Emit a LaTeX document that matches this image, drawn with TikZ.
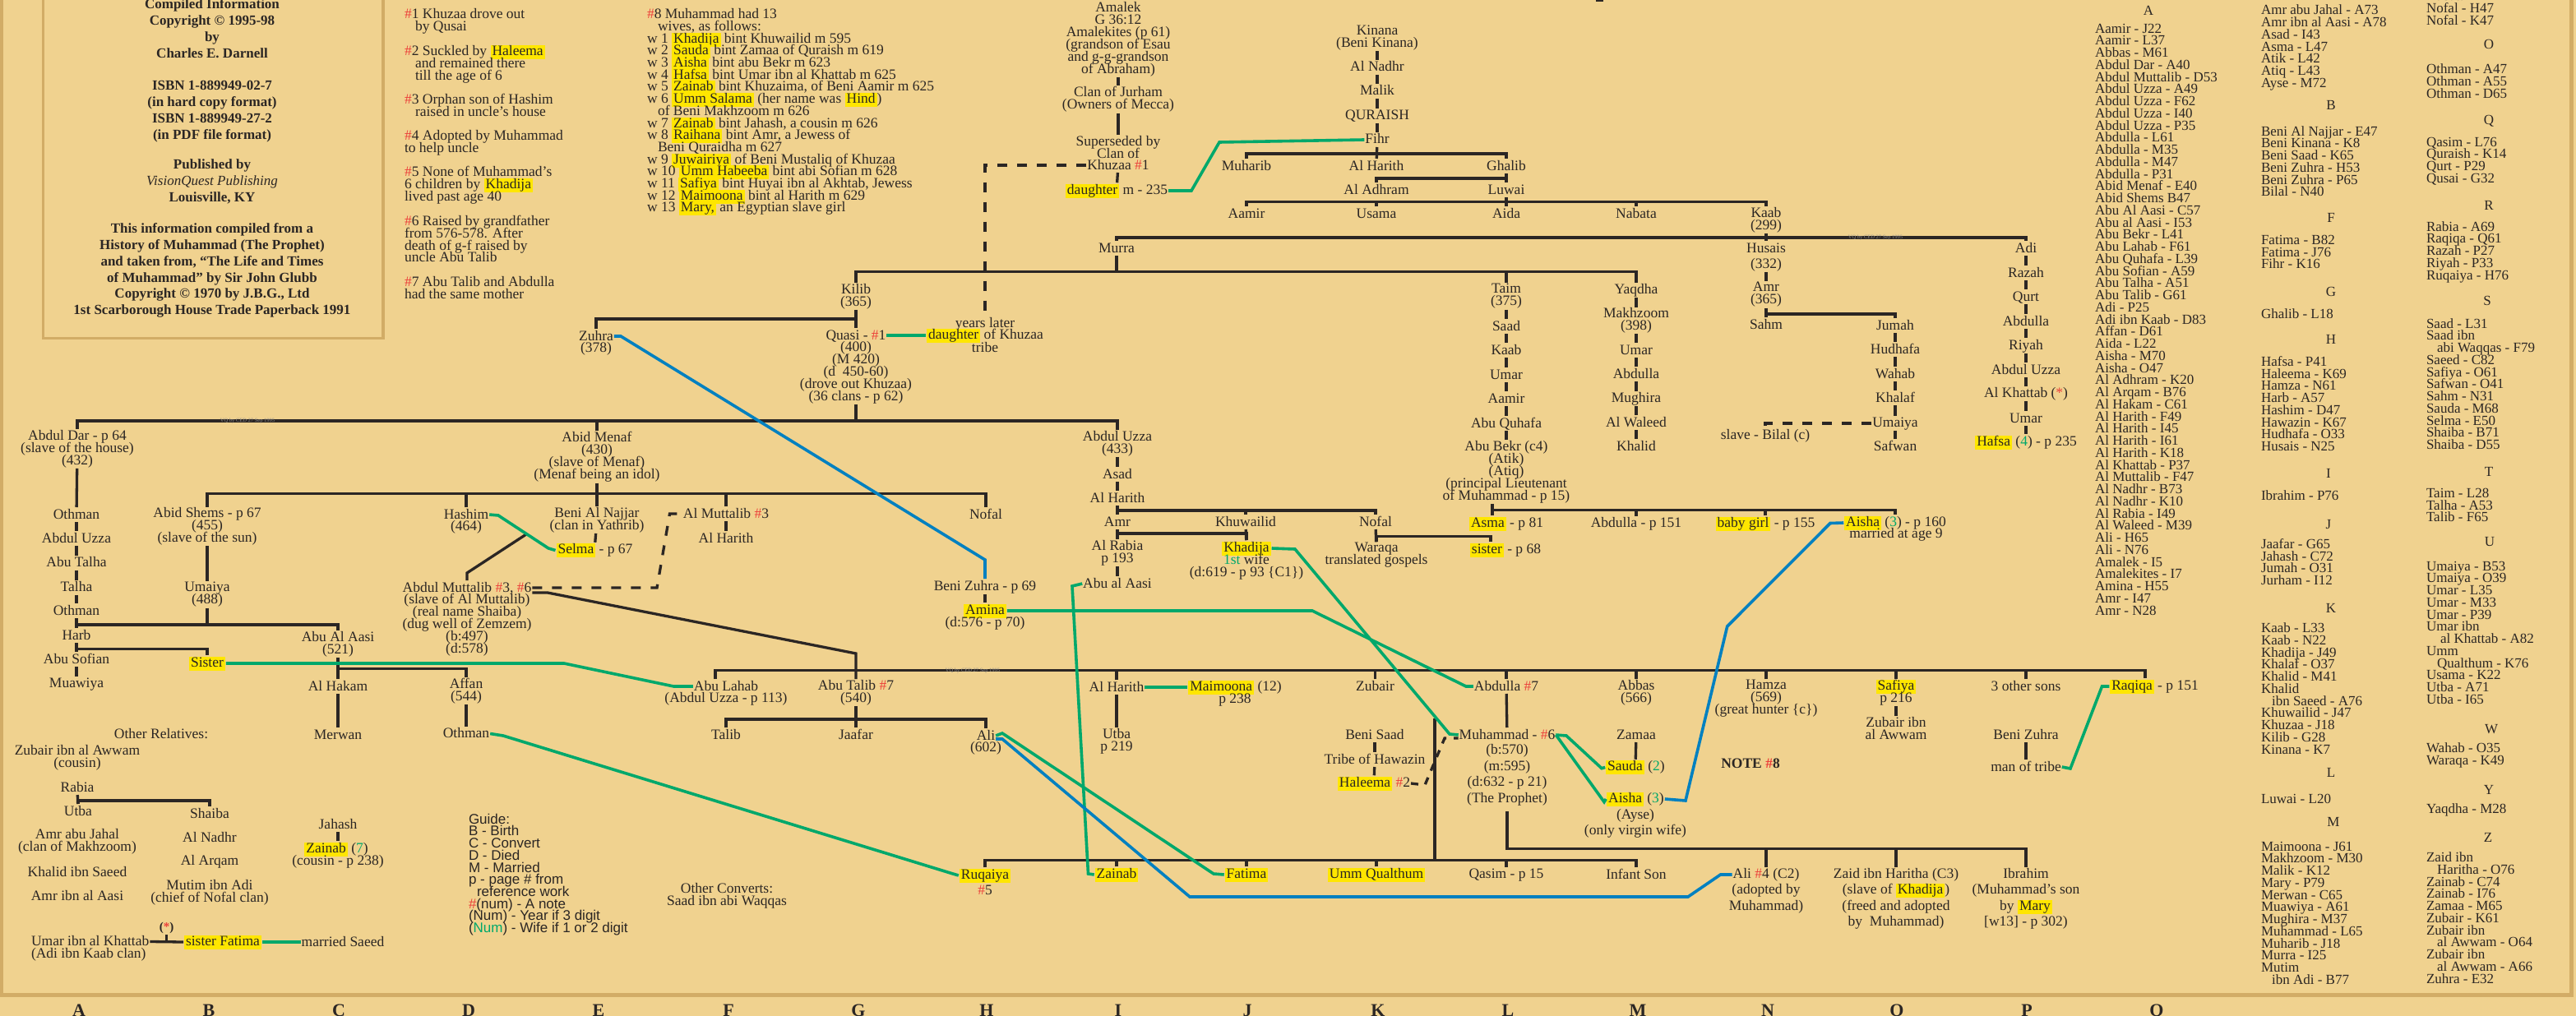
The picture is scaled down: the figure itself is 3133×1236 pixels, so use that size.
\documentclass[tikz,border=0pt]{standalone}
\usepackage{fontspec}
\setmainfont{Liberation Serif}
\newfontfamily\guidefont{Liberation Sans}
\usepackage{tikz}
\lineskiplimit=-100pt
\normallineskiplimit=-100pt
\definecolor{paper}{RGB}{240,210,143}
\definecolor{framecol}{RGB}{210,172,102}
\definecolor{ink}{RGB}{43,38,36}
\definecolor{hlyellow}{RGB}{255,230,0}
\definecolor{notered}{RGB}{236,64,58}
\definecolor{wedgreen}{RGB}{0,168,107}
\definecolor{slaveblue}{RGB}{0,128,192}
\newcommand\hlt[1]{{\setlength\fboxsep{0pt}\colorbox{hlyellow}{\rule[-4.5pt]{0pt}{17pt}\kern2pt #1\kern2pt}}}
\newcommand\nt[1]{\textcolor{notered}{\#}#1}
\newcommand\wf[1]{(\textcolor{wedgreen}{#1})}
\newcommand\sib[3]{\draw[kin] (#1.north) -- ++(0,-#3) -| (#2.north);}
\tikzset{
	txt/.style={inner sep=0pt, outer sep=1pt, align=center, text=ink, font=\fontsize{17.5}{15}\selectfont,
		execute at begin node=\rule{0pt}{13pt}, execute at end node=\rule[-3pt]{0pt}{3pt}},
	txtwide/.style={txt, font=\fontsize{17.5}{19.5}\selectfont},
	notetxt/.style={txt, align=left, anchor=west, font=\fontsize{17.5}{14.8}\selectfont},
	boxtxt/.style={txt, font=\fontsize{17}{19.8}\selectfont\bfseries},
	idx/.style={txt, align=left, anchor=west, font=\fontsize{17}{14.75}\selectfont},
	idxhead/.style={txt, font=\fontsize{17}{14.75}\selectfont},
	guidetxt/.style={txt, align=left, anchor=west, font=\fontsize{17}{14.7}\guidefont},
	colmark/.style={inner sep=0pt, anchor=base, text=ink, font=\fontsize{22}{22}\selectfont\bfseries},
	stamp/.style={inner sep=0pt, text=ink!55, font=\fontsize{6.5}{7}\selectfont},
	kin/.style={line width=3.3pt, draw=ink},
	kindash/.style={kin, dash pattern=on 12pt off 12pt},
	wed/.style={line width=3.6pt, draw=wedgreen},
	slavelink/.style={line width=3.6pt, draw=slaveblue}
}

\begin{document}
\begin{tikzpicture}[x=1pt, y=-1pt]
	%%%%% START %%%%%
	\useasboundingbox (0,0) rectangle (3133,1236);
	\fill[paper] (0,0) rectangle (3133,1236);
	\draw[framecol, line width=5pt] (1,-10) -- (1,1210) -- (3127,1210) -- (3127,-10);
	\draw[framecol, line width=3.5pt] (52.5,-10) rectangle (466,411.5);
	\fill[ink] (1941,-1) rectangle (1950,2);

	% title block
	\node[boxtxt] (credit) at (258,86) {Compiled Information\\Copyright © 1995-98\\by\\Charles E. Darnell\\[19.8pt]ISBN 1-889949-02-7\\(in hard copy format)\\ISBN 1-889949-27-2\\(in PDF file format)};
	\node[boxtxt] (publisher) at (258,221) {Published by\\{\mdseries\itshape VisionQuest Publishing}\\Louisville, KY};
	\node[boxtxt] (source) at (258,329) {This information compiled from a\\History of Muhammad (The Prophet)\\and taken from, “The Life and Times\\of Muhammad” by Sir John Glubb\\Copyright © 1970 by J.B.G., Ltd\\1st Scarborough House Trade Paperback 1991};

	% notes
	\node[notetxt] (noteone) at (491,25.5) {\nt{1} Khuzaa drove out\\\hspace*{13pt}by Qusai};
	\node[notetxt] (notetwo) at (491,78) {\nt{2} Suckled by \hlt{Haleema}\\\hspace*{13pt}and remained there\\\hspace*{13pt}till the age of 6};
	\node[notetxt] (notethree) at (491,129.5) {\nt{3} Orphan son of Hashim\\\hspace*{13pt}raised in uncle's house};
	\node[notetxt] (notefour) at (491,173.5) {\nt{4} Adopted by Muhammad\\to help uncle};
	\node[notetxt] (notefive) at (491,225.5) {\nt{5} None of Muhammad’s\\6 children by \hlt{Khadija}\\lived past age 40};
	\node[notetxt] (notesix) at (491,292) {\nt{6} Raised by grandfather\\from 576-578. After\\death of g-f raised by\\uncle Abu Talib};
	\node[notetxt] (noteseven) at (491,351.5) {\nt{7} Abu Talib and Abdulla\\had the same mother};
	\node[notetxt, font=\fontsize{17.5}{14.7}\selectfont] (noteeight) at (786,136.5) {\nt{8} Muhammad had 13\\\hspace*{13pt}wives, as follows:\\w 1 \hlt{Khadija} bint Khuwailid m 595\\w 2 \hlt{Sauda} bint Zamaa of Quraish m 619\\w 3 \hlt{Aisha} bint abu Bekr m 623\\w 4 \hlt{Hafsa} bint Umar ibn al Khattab m 625\\w 5 \hlt{Zainab} bint Khuzaima, of Beni Aamir m 625\\w 6 \hlt{Umm Salama} (her name was \hlt{Hind})\\\hspace*{13pt}of Beni Makhzoom m 626\\w 7 \hlt{Zainab} bint Jahash, a cousin m 626\\w 8 \hlt{Raihana} bint Amr, a Jewess of\\\hspace*{13pt}Beni Quraidha m 627\\w 9 \hlt{Juwairiya} of Beni Mustaliq of Khuzaa\\w 10 \hlt{Umm Habeeba} bint abi Sofian m 628\\w 11 \hlt{Safiya} bint Huyai ibn al Akhtab, Jewess\\w 12 \hlt{Maimoona} bint al Harith m 629\\w 13 \hlt{Mary,} an Egyptian slave girl};

	% top of the tree
	\node[txt] (amalek) at (1360,47.5) {Amalek\\G 36:12\\Amalekites (p 61)\\(grandson of Esau\\and g-g-grandson\\of Abraham)};
	\node[txt] (jurham) at (1360,121) {Clan of Jurham\\(Owners of Mecca)};
	\node[txt] (superseded) at (1360,180) {Superseded by\\Clan of};
	\node[txt] (khuzaa) at (1360,201) {Khuzaa \nt{1}};
	\node[txt] (daughterm) at (1358,232) {\hlt{daughter} m - 235};
	\draw[kin] (amalek) -- (jurham);
	\draw[kin] (jurham) -- (superseded);
	\draw[kin] (khuzaa) -- (daughterm);

	\node[txt] (kinana) at (1675,46) {Kinana\\(Beni Kinana)};
	\node[txt] (alnadhr) at (1675,82) {Al Nadhr};
	\node[txt] (malik) at (1675,111) {Malik};
	\node[txt] (quraish) at (1675,141) {QURAISH};
	\node[txt] (fihr) at (1675,170) {Fihr};
	\node[txt] (muharib) at (1516,202) {Muharib};
	\node[txt] (harithf) at (1674,202) {Al Harith};
	\node[txt] (ghalib) at (1832,202) {Ghalib};
	\node[txt] (aladhram) at (1674,231) {Al Adhram};
	\node[txt] (luwai) at (1832,231) {Luwai};
	\node[txt] (aamirl) at (1516,260) {Aamir};
	\node[txt] (usama) at (1674,260) {Usama};
	\node[txt] (aida) at (1832,260) {Aida};
	\node[txt] (nabata) at (1990,260) {Nabata};
	\node[txt] (kaabn) at (2148,267.5) {Kaab\\(299)};
	\draw[kin] (kinana) -- (alnadhr);
	\draw[kin] (alnadhr) -- (malik);
	\draw[kin] (malik) -- (quraish);
	\draw[kin] (quraish) -- (fihr);
	\draw[kin] (fihr) -- (harithf);
	\sib{muharib}{ghalib}{6}
	\draw[kin] (ghalib) -- (luwai);
	\sib{aladhram}{luwai}{5}
	\draw[kin] (luwai) -- (aida);
	\sib{aamirl}{kaabn}{5.5}
	\draw[kin] (usama.north) -- ++(0,-5.5);
	\draw[kin] (nabata.north) -- ++(0,-5.5);
	\draw[wed] (fihr.west) -- (1483,173) -- (1449,232) -- (daughterm.east);

	% sons of Kaab
	\node[txt] (murra) at (1358,302) {Murra};
	\node[txt] (husais) at (2148,302) {Husais};
	\node[txt] (husaisyear) at (2148,322) {(332)};
	\node[txt] (amrn) at (2148,358.5) {Amr\\(365)};
	\node[txt] (sahm) at (2148,395) {Sahm};
	\node[txt] (jumah) at (2305,396) {Jumah};
	\node[txt] (hudhafa) at (2305,425) {Hudhafa};
	\node[txt] (wahab) at (2305,455) {Wahab};
	\node[txt] (khalaf) at (2305,484) {Khalaf};
	\node[txt] (umaiyao) at (2305,515) {Umaiya};
	\node[txt] (safwan) at (2305,543) {Safwan};
	\node[txt] (bilal) at (2147,530) {slave - Bilal (c)};
	\node[txt] (adi) at (2464,302) {Adi};
	\node[txt] (razah) at (2464,332) {Razah};
	\node[txt] (qurt) at (2464,361) {Qurt};
	\node[txt] (abdullap) at (2464,391) {Abdulla};
	\node[txt] (riyah) at (2464,420.5) {Riyah};
	\node[txt] (uzzap) at (2464,450) {Abdul Uzza};
	\node[txt] (khattab) at (2464,479) {Al Khattab (\textcolor{notered}{*})};
	\node[txt] (umarp) at (2464,509) {Umar};
	\node[txt] (hafsa) at (2464,538) {\hlt{Hafsa} \wf{4} - p 235};
	\sib{murra}{adi}{4}
	\draw[kin] (kaabn) -- (husais);
	\draw[kin] (husaisyear) -- (amrn);
	\draw[kin] (amrn) -- (sahm);
	\sib{sahm}{jumah}{4}
	\draw[kin] (jumah) -- (hudhafa);
	\draw[kin] (hudhafa) -- (wahab);
	\draw[kin] (wahab) -- (khalaf);
	\draw[kin] (khalaf) -- (umaiyao);
	\draw[kin] (umaiyao) -- (safwan);
	\draw[kindash] (umaiyao.west) -| (bilal.north);
	\draw[kin] (adi) -- (razah);
	\draw[kin] (razah) -- (qurt);
	\draw[kin] (qurt) -- (abdullap);
	\draw[kin] (abdullap) -- (riyah);
	\draw[kin] (riyah) -- (uzzap);
	\draw[kin] (uzzap) -- (khattab);
	\draw[kin] (khattab) -- (umarp);
	\draw[kin] (umarp) -- (hafsa);

	% sons of Murra
	\node[txt] (kilib) at (1041,360.5) {Kilib\\(365)};
	\node[txt] (taim) at (1832,360.5) {Taim\\(375)};
	\node[txt] (yaqdha) at (1990,353) {Yaqdha};
	\node[txt] (saad) at (1832,397) {Saad};
	\node[txt] (kaabl) at (1832,426) {Kaab};
	\node[txt] (umarl) at (1832,456) {Umar};
	\node[txt] (aamirq) at (1832,485) {Aamir};
	\node[txt] (quhafa) at (1832,515) {Abu Quhafa};
	\node[txt] (abubekr) at (1832,574) {Abu Bekr (c4)\\(Atik)\\(Atiq)\\(principal Lieutenant\\of Muhammad - p 15)};
	\node[txt] (makhzoom) at (1990,390) {Makhzoom\\(398)};
	\node[txt] (umarm) at (1990,426) {Umar};
	\node[txt] (abdullam) at (1990,455) {Abdulla};
	\node[txt] (mughira) at (1990,485) {Mughira};
	\node[txt] (waleed) at (1990,514) {Al Waleed};
	\node[txt] (khalid) at (1990,543) {Khalid};
	\sib{kilib}{yaqdha}{13.5}
	\draw[kin] (taim.north) -- ++(0,-13.5);
	\draw[kin] (murra.south) -- ++(0,19.5);
	\draw[kin] (taim) -- (saad);
	\draw[kin] (saad) -- (kaabl);
	\draw[kin] (kaabl) -- (umarl);
	\draw[kin] (umarl) -- (aamirq);
	\draw[kin] (aamirq) -- (quhafa);
	\draw[kin] (quhafa) -- (abubekr);
	\draw[kin] (yaqdha) -- (makhzoom);
	\draw[kin] (makhzoom) -- (umarm);
	\draw[kin] (umarm) -- (abdullam);
	\draw[kin] (abdullam) -- (mughira);
	\draw[kin] (mughira) -- (waleed);
	\draw[kin] (waleed) -- (khalid);

	% Abu Bekr's children
	\node[txt] (asma) at (1832,637) {\hlt{Asma} - p 81};
	\node[txt] (abdullab) at (1990,637) {Abdulla - p 151};
	\node[txt] (babygirl) at (2147,637) {\hlt{baby girl} - p 155};
	\node[txt] (aishap) at (2305,636) {\hlt{Aisha} \wf{3} - p 160};
	\node[txt] (aishaage) at (2306,650) {married at age 9};
	\draw[kin] ([xshift=-17pt]abubekr.south) -- ([xshift=-17pt]asma.north);
	\draw[kin] ([xshift=-17pt]asma.north) -- ++(0,-6.5) -| (aishap.north);
	\draw[kin] (abdullab.north) -- ++(0,-6.5);
	\draw[kin] (babygirl.north) -- ++(0,-6.5);

	% Quasi
	\node[txt] (zuhra) at (725,409) {Zuhra};
	\node[txt] (zuhrayear) at (725,424) {(378)};
	\node[txt] (quasi) at (1041,408) {Quasi - \nt{1}};
	\node[txt] (quasiinfo) at (1041,453) {(400)\\(M 420)\\(d\ \ 450-60)\\(drove out Khuzaa)\\(36 clans - p 62)};
	\node[txt] (yearslater) at (1198,394) {years later};
	\node[txt] (daughterk) at (1198,408) {\hlt{daughter} of Khuzaa};
	\node[txt] (tribe) at (1198,423) {tribe};
	\draw[kin] (kilib) -- (quasi);
	\draw[kin] (zuhra.north) -- ++(0,-12) -| (kilib.south);
	\draw[wed] (quasi.east) -- (daughterk.west);
	\draw[kindash] (khuzaa.west) -| (yearslater.north);

	% sons of Quasi
	\node[txt] (abduldar) at (94,546) {Abdul Dar - p 64\\(slave of the house)\\(432)};
	\node[txt] (othmana) at (93,626) {Othman};
	\node[txt] (uzzaa) at (93,655) {Abdul Uzza};
	\node[txt] (abutalha) at (93,684.5) {Abu Talha};
	\node[txt] (talha) at (93,714.5) {Talha};
	\node[txt] (othmanb) at (93,743) {Othman};
	\node[txt] (harb) at (93,773) {Harb};
	\node[txt] (abusofian) at (93,802) {Abu Sofian};
	\node[txt] (muawiya) at (93,832) {Muawiya};
	\node[txt] (abidmenaf) at (726,556) {Abid Menaf\\(430)\\(slave of Menaf)\\(Menaf being an idol)};
	\node[txt] (abduluzza) at (1359,539.5) {Abdul Uzza\\(433)};
	\sib{abduldar}{abduluzza}{10}
	\draw[kin] (abidmenaf.north) -- ++(0,-13);
	\draw[kin] (quasiinfo.south) -- ++(0,20);
	\draw[kin] (abduldar) -- (othmana);
	\draw[kin] (othmana) -- (uzzaa);
	\draw[kin] (uzzaa) -- (abutalha);
	\draw[kin] (abutalha) -- (talha);
	\draw[kin] (talha) -- (othmanb);
	\draw[kin] (othmanb) -- (harb);
	\draw[kin] (harb) -- (abusofian);
	\draw[kin] (abusofian) -- (muawiya);

	% sons of Abid Menaf
	\node[txt] (abidshems) at (252,640.5) {Abid Shems - p 67\\(455)\\(slave of the sun)};
	\node[txt] (umaiyab) at (252,723.5) {Umaiya\\(488)};
	\node[txt] (abualaasi) at (411,783.5) {Abu Al Aasi\\(521)};
	\node[txt] (sister) at (252,807) {\hlt{Sister}};
	\node[txt] (alhakam) at (411,835) {Al Hakam};
	\node[txt] (affan) at (567,840.5) {Affan\\(544)};
	\node[txt] (merwan) at (411,894) {Merwan};
	\node[txt] (othmand) at (567,892.5) {Othman};
	\node[txt] (hashim) at (567,626) {Hashim};
	\node[txt] (hashimyear) at (567,640.5) {(464)};
	\node[txt] (beninajjar) at (726,632.5) {Beni Al Najjar\\(clan in Yathrib)};
	\node[txt] (selma) at (723,669.5) {\hlt{Selma} - p 67};
	\node[txt] (almuttalib) at (883,625) {Al Muttalib \nt{3}};
	\node[txt] (haritht) at (883,655) {Al Harith};
	\node[txt] (nofalh) at (1199,626) {Nofal};
	\node[txt] (abdmuttalib) at (568,715) {Abdul Muttalib \nt{3}, \nt{6}};
	\node[txt] (muttalibinfo) at (568,760) {(slave of Al Muttalib)\\(real name Shaiba)\\(dug well of Zemzem)\\(b:497)\\(d:578)};
	\coordinate (hashimjoin) at (640,650);
	\sib{abidshems}{nofalh}{16}
	\draw[kin] (hashim.north) -- ++(0,-16);
	\draw[kin] (almuttalib.north) -- ++(0,-15);
	\draw[kin] (abidmenaf) -- (beninajjar);
	\draw[kin] (beninajjar) -- (selma);
	\draw[kin] (almuttalib) -- (haritht);
	\draw[kin] (abidshems) -- (umaiyab);
	\draw[kin] (umaiyab.south) -- ++(0,20);
	\sib{harb}{abualaasi}{4}
	\sib{abusofian}{sister}{3.5}
	\draw[kin] (abualaasi) -- (alhakam);
	\sib{alhakam}{affan}{12.4}
	\draw[kin] (alhakam) -- (merwan);
	\draw[kin] (affan) -- (othmand);
	\draw[kin] (abdmuttalib.north) -- ++(0,-9) -- (hashimjoin);
	\draw[kindash] (abdmuttalib.east) -- (799,715) -- (814.5,625) -- (almuttalib.west);
	\draw[wed] (hashim.east) -- (606,627) -- (667,667) -- (selma.west);

	% sons of Abdul Muttalib
	\node[txt] (abulahab) at (883,835) {Abu Lahab};
	\node[txt] (lahabinfo) at (883,850) {(Abdul Uzza - p 113)};
	\node[txt] (abutalib) at (1041,842.5) {Abu Talib \nt{7}\\(540)};
	\node[txt] (talib) at (883,894) {Talib};
	\node[txt] (jaafar) at (1041,894) {Jaafar};
	\node[txt] (ali) at (1199,895) {Ali};
	\node[txt] (aliyear) at (1199,910) {(602)};
	\node[txt] (harithu) at (1358,836) {Al Harith};
	\node[txt] (utba) at (1358,901.5) {Utba\\p 219};
	\node[txt] (maimoona) at (1502,844) {\hlt{Maimoona} (12)\\p 238};
	\node[txt] (zubair) at (1672.5,835) {Zubair};
	\node[txt] (benisaad) at (1672,894) {Beni Saad};
	\node[txt] (hawazin) at (1672,924) {Tribe of Hawazin};
	\node[txt] (haleema) at (1671,953) {\hlt{Haleema} \nt{2}};
	\node[txt] (abdulla) at (1832,835) {Abdulla \nt{7}};
	\node[txt] (muhammad) at (1833,894) {Muhammad - \nt{6}};
	\node[txtwide] (muhinfo) at (1833,943) {(b:570)\\(m:595)\\(d:632 - p 21)\\(The Prophet)};
	\node[txt] (abbas) at (1990,842.5) {Abbas\\(566)};
	\node[txt] (zamaa) at (1990,894) {Zamaa};
	\node[txt] (sauda) at (1989,933.5) {\hlt{Sauda} \wf{2}};
	\node[txt] (aisha) at (1989,972) {\hlt{Aisha} \wf{3}};
	\node[txtwide] (aishainfo) at (1989,1002) {(Ayse)\\(only virgin wife)};
	\node[txt] (hamza) at (2148,850) {Hamza\\(569)\\(great hunter \{c\})};
	\node[txt] (safiya) at (2306,842.5) {\hlt{Safiya}\\p 216};
	\node[txt] (zubairibn) at (2306,887) {Zubair ibn\\al Awwam};
	\node[txt] (othersons) at (2464,835) {3 other sons};
	\node[txt] (benizuhrap) at (2464,894) {Beni Zuhra};
	\node[txt] (manoftribe) at (2464,933) {man of tribe};
	\node[txt] (raqiqa) at (2620,835) {\hlt{Raqiqa} - p 151};
	\node[txt, font=\fontsize{17.5}{15}\selectfont\bfseries] (noteref) at (2129,929) {NOTE \nt{8}};
	\draw[kin] ([yshift=-6pt]abdmuttalib.east) -- (666,721) -- (1041,795) -- (abutalib.north);
	\draw[kin] ([xshift=-13pt]abulahab.north) -- ++(0,-10.5) -| ([xshift=-11pt]raqiqa.north);
	\draw[kin] (harithu.north) -- ++(0,-11.5);
	\draw[kin] (zubair.north) -- ++(0,-10.5);
	\draw[kin] (abdulla.north) -- ++(0,-10.5);
	\draw[kin] (abbas.north) -- ++(0,-10.5);
	\draw[kin] (hamza.north) -- ++(0,-10.5);
	\draw[kin] (safiya.north) -- ++(0,-10.5);
	\draw[kin] (othersons.north) -- ++(0,-10.5);
	\draw[kin] (abutalib) -- (jaafar);
	\sib{talib}{ali}{10}
	\draw[kin] (harithu) -- (utba);
	\draw[kin] (benisaad) -- (hawazin);
	\draw[kin] (hawazin) -- (haleema);
	\draw[kin] (abdulla) -- (muhammad);
	\draw[kin] (zamaa) -- (sauda);
	\draw[kin] (safiya) -- (zubairibn);
	\draw[kin] (benizuhrap) -- (manoftribe);
	\draw[kin, dash pattern=on 9pt off 9pt] (haleema.east) -- (1733,955) -- (1757,898) -- ([yshift=-4pt]muhammad.west);
	\draw[wed] (harithu.east) -- (maimoona.west |- harithu.east);
	\draw[wed] (manoftribe.east) -- (2518,935) -- (2556.5,835) -- (raqiqa.west);
	\draw[wed] (muhammad.east) -- (1905,895) -- (1948,934.7) -- (sauda.west);
	\draw[wed] (muhammad.east) -- (1951,975.6) -- (aisha.west);
	\draw[slavelink] (aisha.east) -- (2050,974) -- (2100.7,762) -- (2226,636.5) -- (aishap.west);

	% Abdul Uzza line
	\node[txt] (asad) at (1359,577) {Asad};
	\node[txt] (harithk) at (1359,606) {Al Harith};
	\node[txt] (amri) at (1359,635) {Amr};
	\node[txt] (alrabia) at (1359,672.5) {Al Rabia\\p 193};
	\node[txt] (abualaasii) at (1359,710) {Abu al Aasi};
	\node[txt] (khuwailid) at (1515,635) {Khuwailid};
	\node[txt] (khadija) at (1516,667) {\hlt{Khadija}};
	\node[txt] (khadijainfo) at (1516,689.5) {\textcolor{wedgreen}{1st} wife\\(d:619 - p 93 \{C1\})};
	\node[txt] (nofalk) at (1673,635) {Nofal};
	\node[txt] (waraqa) at (1674,675.5) {Waraqa\\translated gospels};
	\node[txt] (sisterb) at (1831,669) {\hlt{sister} - p 68};
	\draw[kin] (abduluzza) -- (asad);
	\draw[kin] (asad) -- (harithk);
	\draw[kin] (harithk) -- (amri);
	\draw[kin] (amri) -- (alrabia);
	\draw[kin] (alrabia) -- (abualaasii);
	\sib{amri}{nofalk}{5}
	\draw[kin] (khuwailid.north) -- ++(0,-5);
	\sib{alrabia}{khadija}{7}
	\draw[kin] (khuwailid) -- (khadija);
	\draw[kin] (nofalk) -- (waraqa);
	\draw[kin] (waraqa.north) -- ++(0,-7) -| ([xshift=-18pt]sisterb.north);

	% Beni Zuhra
	\node[txt] (benizuhra) at (1198,713.5) {Beni Zuhra - p 69};
	\node[txt] (amina) at (1198,743) {\hlt{Amina}};
	\node[txt] (aminainfo) at (1198,757.5) {(d:576 - p 70)};
	\draw[kin] (benizuhra) -- (amina);
	\draw[slavelink] (zuhra.east) -- (755,409) -- (1198,681) -- (benizuhra.north);
	\draw[wed] (amina.east) -- (1596,743) -- (1783,835) -- (abdulla.west);
	\draw[wed] (sister.east) -- (686,807) -- (819.4,835) -- (abulahab.west);

	% children of Muhammad
	\node[txt] (ruqaiya) at (1198,1065) {\hlt{Ruqaiya}};
	\node[txt] (ruqaiyanote) at (1198,1083.5) {\nt{5}};
	\node[txt] (zainabi) at (1358,1064) {\hlt{Zainab}};
	\node[txt] (fatima) at (1516,1064) {\hlt{Fatima}};
	\node[txt] (ummq) at (1674,1064) {\hlt{Umm Qualthum}};
	\node[txt] (qasim) at (1832,1064) {Qasim - p 15};
	\node[txt] (infantson) at (1990,1064) {Infant Son};
	\node[txtwide] (alifour) at (2148,1064) {Ali \nt{4} (C2)};
	\node[txtwide] (alifourinfo) at (2148,1093.5) {(adopted by\\Muhammad)};
	\node[txtwide] (zaid) at (2306,1093.5) {Zaid ibn Haritha (C3)\\(slave of \hlt{Khadija})\\(freed and adopted\\by\ \ Muhammad)};
	\node[txtwide] (ibrahim) at (2464,1093.5) {Ibrahim\\(Muhammad’s son\\by \hlt{Mary}\\{}[w13] - p 302)};
	\coordinate (khadijabar) at (1745,874);
	\draw[kin] (khadijabar) -- ++(0,173);
	\sib{ruqaiya}{infantson}{9}
	\draw[kin] (zainabi.north) -- ++(0,-9);
	\draw[kin] (fatima.north) -- ++(0,-9);
	\draw[kin] (ummq.north) -- ++(0,-9);
	\draw[kin] (qasim.north) -- ++(0,-9);
	\draw[kin] ([yshift=-6pt]muhinfo.south) -- ++(0,45.5) -| (ibrahim.north);
	\draw[kin] (alifour.north) -- ++(0,-22.5);
	\draw[kin] (zaid.north) -- ++(0,-22.5);
	\draw[wed] (khadija.east) -- (1575,668) -- (1763,893) -- (muhammad.west);
	\draw[wed] (abualaasii.west) -- (1304,713) -- (1323.5,1063) -- (zainabi.west);
	\draw[wed] (ali.east) -- (1219,892) -- (1476,1063) -- (fatima.west);
	\draw[wed] (othmand.east) -- (612,895) -- (1159,1063) -- (ruqaiya.west);
	\draw[slavelink] ([yshift=-4pt]ali.east) -- (1219,899) -- (1447,1091) -- (2053,1091) -- (2092.5,1064) -- (alifour.west);

	% other relatives
	\node[txt] (otherrel) at (196,893) {Other Relatives:};
	\node[txt] (zubairaw) at (94,922) {Zubair ibn al Awwam\\(cousin)};
	\node[txt] (rabia) at (94,958) {Rabia};
	\node[txt] (utbaa) at (95,987) {Utba};
	\node[txt] (shaiba) at (255,990) {Shaiba};
	\node[txt] (amrjahal) at (94,1024) {Amr abu Jahal\\(clan of Makhzoom)};
	\node[txt] (khalidsaeed) at (94,1061) {Khalid ibn Saeed};
	\node[txt] (amraasi) at (94,1090.5) {Amr ibn al Aasi};
	\node[txt] (nadhrb) at (255,1019) {Al Nadhr};
	\node[txt] (arqam) at (255,1048) {Al Arqam};
	\node[txt] (mutim) at (255,1085.5) {Mutim ibn Adi\\(chief of Nofal clan)};
	\node[txt] (jahash) at (411,1003) {Jahash};
	\node[txt] (zainabc) at (409,1033) {\hlt{Zainab} \wf{7}};
	\node[txt] (zainabinfo) at (411,1047.5) {(cousin - p 238)};
	\node[txt, anchor=west] (umarkh) at (37,1145.5) {Umar ibn al Khattab};
	\node[txt, anchor=west] (umarclan) at (37,1160.5) {(Adi ibn Kaab clan)};
	\node[txt] (sisterf) at (271,1146) {\hlt{sister Fatima}};
	\node[txt, font=\fontsize{15}{15}\selectfont\bfseries] (starsym) at (202.5,1128) {(\textcolor{notered}{*})};
	\node[txt] (marriedsaeed) at (417,1146) {married Saeed};
	\draw[kin] (rabia) -- (utbaa);
	\sib{utbaa}{shaiba}{4}
	\draw[kin] (jahash) -- (jahash |- zainabc.north);
	\draw[kin] (umarkh.east) -- (sisterf.west);
	\draw[kin, line width=2.5pt] (starsym.south) -- (starsym.south |- sisterf.west);
	\draw[wed] (sisterf.east) -- (marriedsaeed.west);

	% guide and converts
	\node[guidetxt] (guide) at (569,1064) {Guide:\\B - Birth\\C - Convert\\D - Died\\M - Married\\p - page \# from\\\hspace*{10pt}reference work\\\textcolor{notered}{\#}(num) - A note\\(Num) - Year if 3 digit\\(\textcolor{wedgreen}{Num}) - Wife if 1 or 2 digit};
	\node[txt] (converts) at (884,1090) {Other Converts:\\Saad ibn abi Waqqas};

	% index
	\node[idxhead] (idxa) at (2613,13.5) {A};
	\node[idx] (idxalist) at (2547,390) {Aamir - J22\\Aamir - L37\\Abbas - M61\\Abdul Dar - A40\\Abdul Muttalib - D53\\Abdul Uzza - A49\\Abdul Uzza - F62\\Abdul Uzza - I40\\Abdul Uzza - P35\\Abdulla - L61\\Abdulla - M35\\Abdulla - M47\\Abdulla - P31\\Abid Menaf - E40\\Abid Shems B47\\Abu Al Aasi - C57\\Abu al Aasi - I53\\Abu Bekr - L41\\Abu Lahab - F61\\Abu Quhafa - L39\\Abu Sofian - A59\\Abu Talha - A51\\Abu Talib - G61\\Adi - P25\\Adi ibn Kaab - D83\\Affan - D61\\Aida - L22\\Aisha - M70\\Aisha - O47\\Al Adhram - K20\\Al Arqam - B76\\Al Hakam - C61\\Al Harith - F49\\Al Harith - I45\\Al Harith - I61\\Al Harith - K18\\Al Khattab - P37\\Al Muttalib - F47\\Al Nadhr - B73\\Al Nadhr - K10\\Al Rabia - I49\\Al Waleed - M39\\Ali - H65\\Ali - N76\\Amalek - I5\\Amalekites - I7\\Amina - H55\\Amr - I47\\Amr - N28};
	\node[idx] (idxatail) at (2749,58) {Amr abu Jahal - A73\\Amr ibn al Aasi - A78\\Asad - I43\\Asma - L47\\Atik - L42\\Atiq - L43\\Ayse - M72};
	\node[idxhead] (idxb) at (2835,129) {B};
	\node[idx] (idxblist) at (2749,197.5) {Beni Al Najjar - E47\\Beni Kinana - K8\\Beni Saad - K65\\Beni Zuhra - H53\\Beni Zuhra - P65\\Bilal - N40};
	\node[idxhead] (idxf) at (2835,265) {F};
	\node[idx] (idxflist) at (2749,308) {Fatima - B82\\Fatima - J76\\Fihr - K16};
	\node[idxhead] (idxg) at (2835,355) {G};
	\node[idx] (idxglist) at (2749,382) {Ghalib - L18};
	\node[idxhead] (idxh) at (2835,413) {H};
	\node[idx] (idxhlist) at (2749,492.5) {Hafsa - P41\\Haleema - K69\\Hamza - N61\\Harb - A57\\Hashim - D47\\Hawazin - K67\\Hudhafa - O33\\Husais - N25};
	\node[idxhead] (idxi) at (2832,576) {I};
	\node[idx] (idxilist) at (2749,603) {Ibrahim - P76};
	\node[idxhead] (idxj) at (2832,638) {J};
	\node[idx] (idxjlist) at (2749,685) {Jaafar - G65\\Jahash - C72\\Jumah - O31\\Jurham - I12};
	\node[idxhead] (idxk) at (2835,740) {K};
	\node[idx] (idxklist) at (2749,839) {Kaab - L33\\Kaab - N22\\Khadija - J49\\Khalaf - O37\\Khalid - M41\\Khalid\\\hspace*{13pt}ibn Saeed - A76\\Khuwailid - J47\\Khuzaa - J18\\Kilib - G28\\Kinana - K7};
	\node[idxhead] (idxl) at (2835,940) {L};
	\node[idx] (idxllist) at (2749,972) {Luwai - L20};
	\node[idxhead] (idxm) at (2838,1000) {M};
	\node[idx] (idxmlist) at (2749,1112) {Maimoona - J61\\Makhzoom - M30\\Malik - K12\\Mary - P79\\Merwan - C65\\Muawiya - A61\\Mughira - M37\\Muhammad - L65\\Muharib - J18\\Murra - I25\\Mutim\\\hspace*{13pt}ibn Adi - B77};
	\node[idx] (idxnlist) at (2950,11) {Nabata - M22\\Nofal - H47\\Nofal - K47};
	\node[idxhead] (idxo) at (3027,55) {O};
	\node[idx] (idxolist) at (2950,100) {Othman - A47\\Othman - A55\\Othman - D65};
	\node[idxhead] (idxq) at (3027,147) {Q};
	\node[idx] (idxqlist) at (2950,196) {Qasim - L76\\Quraish - K14\\Qurt - P29\\Qusai - G32};
	\node[idxhead] (idxr) at (3027,250) {R};
	\node[idx] (idxrlist) at (2950,306.5) {Rabia - A69\\Raqiqa - Q61\\Razah - P27\\Riyah - P33\\Ruqaiya - H76};
	\node[idxhead] (idxs) at (3025,366) {S};
	\node[idx] (idxslist) at (2950,468.5) {Saad - L31\\Saad ibn\\\hspace*{13pt}abi Waqqas - F79\\Saeed - C82\\Safiya - O61\\Safwan - O41\\Sahm - N31\\Sauda - M68\\Selma - E50\\Shaiba - B71\\Shaiba - D55};
	\node[idxhead] (idxt) at (3027,574) {T};
	\node[idx] (idxtlist) at (2950,616) {Taim - L28\\Talha - A53\\Talib - F65};
	\node[idxhead] (idxu) at (3028,659) {U};
	\node[idx] (idxulist) at (2950,771) {Umaiya - B53\\Umaiya - O39\\Umar - L35\\Umar - M33\\Umar - P39\\Umar ibn\\\hspace*{17pt}al Khattab - A82\\Umm\\\hspace*{13pt}Qualthum - K76\\Usama - K22\\Utba - A71\\Utba - I65};
	\node[idxhead] (idxw) at (3030,887) {W};
	\node[idx] (idxwlist) at (2950,919) {Wahab - O35\\Waraqa - K49};
	\node[idxhead] (idxy) at (3027,961) {Y};
	\node[idx] (idxylist) at (2950,985) {Yaqdha - M28};
	\node[idxhead] (idxz) at (3026,1019) {Z};
	\node[idx] (idxzlist) at (2950,1118) {Zaid ibn\\\hspace*{13pt}Haritha - O76\\Zainab - C74\\Zainab - I76\\Zamaa - M65\\Zubair - K61\\Zubair ibn\\\hspace*{13pt}al Awwam - O64\\Zubair ibn\\\hspace*{13pt}al Awwam - A66\\Zuhra - E32};

	% stamps on the lines
	\node[stamp] (stampa) at (301,512) {VQ by CED 27 Sep 1995};
	\node[stamp] (stampb) at (2281,289) {VQ by CED 27 Sep 1995};
	\node[stamp] (stampc) at (1183,815.5) {VQ by CED 27 Sep 1995};

	% map columns
	\node[colmark] (cola) at (96,1236) {A};
	\node[colmark] (colb) at (254,1236) {B};
	\node[colmark] (colc) at (412,1236) {C};
	\node[colmark] (cold) at (570,1236) {D};
	\node[colmark] (cole) at (728,1236) {E};
	\node[colmark] (colf) at (886,1236) {F};
	\node[colmark] (colg) at (1044,1236) {G};
	\node[colmark] (colh) at (1200,1236) {H};
	\node[colmark] (coli) at (1360,1236) {I};
	\node[colmark] (colj) at (1517,1236) {J};
	\node[colmark] (colk) at (1676,1236) {K};
	\node[colmark] (coll) at (1834,1236) {L};
	\node[colmark] (colm) at (1992,1236) {M};
	\node[colmark] (coln) at (2150,1236) {N};
	\node[colmark] (colo) at (2307,1236) {O};
	\node[colmark] (colp) at (2465,1236) {P};
	\node[colmark] (colq) at (2623,1236) {Q};
	%%%%% END %%%%%
\end{tikzpicture}
\end{document}
